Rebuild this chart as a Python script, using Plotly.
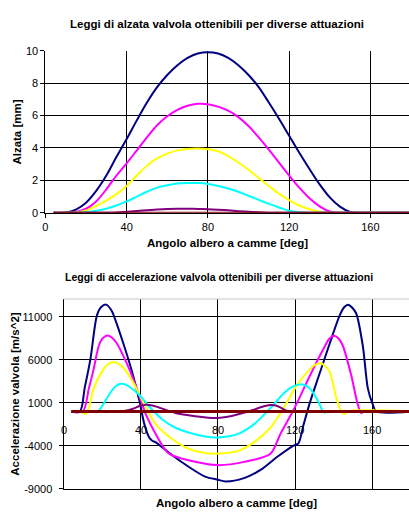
import plotly.graph_objects as go

# ---------------- data: valve lift [mm] vs cam angle [deg] ----------------
LIFT_DEG = [4, 10, 15, 20, 25, 30, 35, 40, 45, 50, 55, 60, 65, 70, 75, 80, 85, 90,
            95, 100, 105, 110, 115, 120, 125, 130, 135, 140, 145, 150, 155, 160,
            165, 170, 175, 180]
LIFT_NAVY = [0, 0.02, 0.2, 0.62, 1.35, 2.3, 3.45, 4.55, 5.7, 6.8, 7.75, 8.5, 9.1, 9.55,
             9.82, 9.9, 9.82, 9.55, 9.1, 8.5, 7.75, 6.8, 5.8, 4.75, 3.7, 2.7, 1.75,
             0.95, 0.38, 0.05, 0, 0, 0, 0, 0, 0]
LIFT_MAGENTA = [0, 0, 0.05, 0.25, 0.7, 1.45, 2.3, 3.05, 3.85, 4.65, 5.4, 5.95, 6.35,
                6.6, 6.72, 6.7, 6.55, 6.3, 5.9, 5.35, 4.65, 3.9, 3.1, 2.3, 1.55, 0.9,
                0.4, 0.08, 0, 0, 0, 0, 0, 0, 0, 0]
LIFT_YELLOW = [0, 0, 0.02, 0.15, 0.42, 0.75, 1.15, 1.65, 2.3, 2.9, 3.35, 3.65, 3.85,
               3.94, 3.96, 3.92, 3.8, 3.5, 3.1, 2.65, 2.15, 1.65, 1.18, 0.78, 0.45,
               0.22, 0.07, 0, 0, 0, 0, 0, 0, 0, 0, 0]
LIFT_CYAN = [0, 0, 0, 0.03, 0.12, 0.25, 0.45, 0.7, 1.0, 1.3, 1.55, 1.7, 1.8, 1.84,
             1.83, 1.78, 1.65, 1.5, 1.3, 1.05, 0.8, 0.55, 0.33, 0.13, 0.03, 0, 0, 0,
             0, 0, 0, 0, 0, 0, 0, 0]
LIFT_PURPLE = [0, 0, 0, 0, 0, 0.005, 0.02, 0.06, 0.11, 0.16, 0.2, 0.23, 0.25, 0.25,
               0.24, 0.22, 0.19, 0.15, 0.1, 0.06, 0.03, 0.01, 0, 0, 0, 0, 0, 0, 0, 0,
               0, 0, 0, 0, 0, 0]
LIFT_MAROON = [0] * len(LIFT_DEG)

# ---------------- data: valve acceleration [m/s^2] vs cam angle [deg] ----------------
ACC_NAVY_DEG = [4, 8.5, 11, 13.9, 17.3, 19.5, 22, 25, 26.6, 30.9, 35.1, 39.4, 41.9, 44.4,
                46, 47.8, 56.3, 64.8, 73.3, 80, 84, 93.5, 102.1, 110.6, 119.2, 121.7,
                124.4, 127.8, 132.9, 138, 143.1, 145.5, 147.4, 149.5, 151.7, 155.1,
                157.7, 160.3, 162, 180]
ACC_NAVY = [0, 0, 2800, 6070, 11180, 12150, 12430, 11700, 10800, 7970, 4930, 1150,
            -1500, -3020, -3400, -3590, -5100, -6430, -7570, -7940, -8140, -7750,
            -6800, -5300, -3970, -3700, -1500, 1150, 4560, 7970, 11180, 12150, 12430,
            12100, 11370, 7590, 2660, 770, 0, 0]
ACC_MAGENTA_DEG = [4, 10, 13.1, 15.6, 18.2, 20.2, 22.7, 25, 27.5, 32.6, 37.7, 42.7,
                   47.8, 52.9, 55, 64.8, 80, 93.5, 107.2, 112.3, 119.2, 127.7, 134.5,
                   137.5, 140, 142.5, 144.8, 149.1, 152.5, 154.2, 156, 180]
ACC_MAGENTA = [0, 0, 2660, 4930, 7590, 8500, 8840, 8600, 7970, 5690, 2850, -360,
               -2640, -4530, -4950, -5670, -6240, -5860, -4910, -2640, 200, 4180,
               7200, 8400, 8800, 8500, 7590, 4180, 770, -180, 0, 0]
ACC_YELLOW_DEG = [4, 9, 11.4, 13, 15.6, 20.7, 23, 25.8, 28, 30.9, 36, 41.1, 47.8, 56.3,
                  64.8, 73.3, 80, 90.1, 98.6, 107.2, 114, 120.9, 127.7, 130.5, 133.2,
                  135.5, 138, 141.4, 144, 145.7, 147, 180]
ACC_YELLOW = [0, 0, -300, 300, 2660, 4930, 5500, 5770, 5600, 5120, 3420, 1150, -1500,
              -3200, -4340, -4840, -4900, -4610, -3590, -1890, 390, 3050, 4930, 5450,
              5610, 5300, 4560, 1520, -70, -300, 0, 0]
ACC_CYAN_DEG = [4, 15.6, 17, 19, 22.4, 25.8, 28, 30, 32, 34.3, 39.3, 44.4, 51.2, 58,
                64.8, 73.3, 80, 90.1, 98.6, 107.2, 114, 118, 122.9, 125, 127.7, 132,
                134.6, 136, 137.5, 180]
ACC_CYAN = [0, 0, -100, 300, 1520, 2660, 3100, 3230, 3150, 2850, 1910, 580, -930,
            -1890, -2450, -2910, -3020, -2640, -1500, 390, 2090, 2800, 3160, 3050,
            2660, 1150, -70, -100, 0, 0]
ACC_PURPLE_DEG = [4, 29, 32, 36, 39, 42.7, 46, 49.4, 58, 68.2, 75, 80, 85, 90, 98.6,
                  103, 107, 110, 112.3, 115.7, 118, 180]
ACC_PURPLE = [0, 0, 80, 320, 600, 770, 700, 470, -180, -560, -720, -750, -620, -360,
              200, 550, 760, 700, 470, 90, 0, 0]
ACC_MAROON_DEG = [4, 180]
ACC_MAROON = [0, 0]

X_TICKS = [0, 40, 80, 120, 160]
X_TICK_LABELS = ["0", "40", "80", "120", "160"]
LIFT_TICKS = [0, 2, 4, 6, 8, 10]
LIFT_TICK_LABELS = ["0", "2", "4", "6", "8", "10"]
ACC_TICKS = [-9000, -4000, 1000, 6000, 11000]
ACC_TICK_LABELS = ["-9000", "-4000", "1000", "6000", "11000"]

COLORS = ["#000080", "#FF00FF", "#FFFF00", "#00FFFF", "#800080", "#800000"]
NAMES = ["Serie 1", "Serie 2", "Serie 3", "Serie 4", "Serie 5", "Serie 6"]

FONT = "Liberation Sans, Arial, sans-serif"
W, H = 409, 518

fig = go.Figure()

lift_series = [LIFT_NAVY, LIFT_MAGENTA, LIFT_YELLOW, LIFT_CYAN, LIFT_PURPLE, LIFT_MAROON]
for i, ys in enumerate(lift_series):
    fig.add_trace(go.Scatter(
        x=LIFT_DEG, y=ys, mode="lines", name=NAMES[i], showlegend=False,
        line=dict(color=COLORS[i], width=2, shape="spline", smoothing=1.0),
        xaxis="x", yaxis="y"))

acc_series = [(ACC_NAVY_DEG, ACC_NAVY), (ACC_MAGENTA_DEG, ACC_MAGENTA),
              (ACC_YELLOW_DEG, ACC_YELLOW), (ACC_CYAN_DEG, ACC_CYAN),
              (ACC_PURPLE_DEG, ACC_PURPLE), (ACC_MAROON_DEG, ACC_MAROON)]
for i, (xs, ys) in enumerate(acc_series):
    fig.add_trace(go.Scatter(
        x=xs, y=ys, mode="lines", name=NAMES[i], showlegend=False,
        line=dict(color=COLORS[i], width=3 if i == 5 else 2,
                  shape="spline" if i < 5 else "linear", smoothing=0.8),
        xaxis="x2", yaxis="y2"))

def px(xp):
    return xp / W

def py(yp):
    return 1 - yp / H

axis_common = dict(
    showgrid=True, gridcolor="#000000", gridwidth=1,
    showline=True, linecolor="#000000", linewidth=1,
    zeroline=False, tickfont=dict(family=FONT, size=11, color="#000000"),
    tickcolor="#000000", fixedrange=True,
)

fig.update_layout(
    width=W, height=H,
    margin=dict(l=0, r=0, t=0, b=0),
    paper_bgcolor="white", plot_bgcolor="white",
    showlegend=False,
    xaxis=dict(domain=[px(42.7), 1], range=[0, 179], tickvals=X_TICKS,
               ticktext=X_TICK_LABELS, ticks="outside", ticklen=4, anchor="y",
               **axis_common),
    yaxis=dict(domain=[py(211.7), py(45.7)], range=[0, 10], tickvals=LIFT_TICKS,
               ticktext=LIFT_TICK_LABELS, ticks="outside", ticklen=4, anchor="x",
               **axis_common),
    xaxis2=dict(domain=[px(61), 1], range=[0, 179], tickvals=X_TICKS,
                ticks="", showticklabels=False, anchor="y2", **axis_common),
    yaxis2=dict(domain=[py(494.3), py(300)], range=[-9000, 13080], tickvals=ACC_TICKS,
                ticktext=ACC_TICK_LABELS, ticks="outside", ticklen=4,
                ticklabelstandoff=4, anchor="x2", **axis_common),
)

# light top border of the lower plot area
fig.add_shape(type="line", xref="x2 domain", yref="y2 domain", x0=0, x1=1, y0=1, y1=1,
              line=dict(color="#C8C8C8", width=1))

ann = []
def add_text(text, x, y, size, bold=True, angle=0, xref="paper", yref="paper",
             xanchor="center", yanchor="middle", yshift=0):
    ann.append(dict(text=("<b>%s</b>" % text) if bold else text, x=x, y=y,
                    xref=xref, yref=yref, showarrow=False, textangle=angle,
                    xanchor=xanchor, yanchor=yanchor, yshift=yshift,
                    font=dict(family=FONT, size=size, color="#000000")))

add_text("Leggi di alzata valvola ottenibili per diverse attuazioni", px(216), py(18), 11.5)
add_text("Angolo albero a camme [deg]", px(226.5), py(243), 11.5)
add_text("Alzata [mm]", px(14), py(128.7), 11.5, angle=-90)
add_text("Leggi di accelerazione valvola ottenibili per diverse attuazioni", px(218), py(277), 10.5)
add_text("Angolo albero a camme [deg]", px(235), py(509), 11.5)
add_text("Accelerazione valvola [m/s^2]", px(12), py(397), 11.5, angle=-90)
for t, lab in zip(X_TICKS, X_TICK_LABELS):
    add_text(lab, t, 0, 11, bold=False, xref="x2", yref="y2", yshift=-19)

fig.update_layout(annotations=ann)

fig.write_html("out.html")
